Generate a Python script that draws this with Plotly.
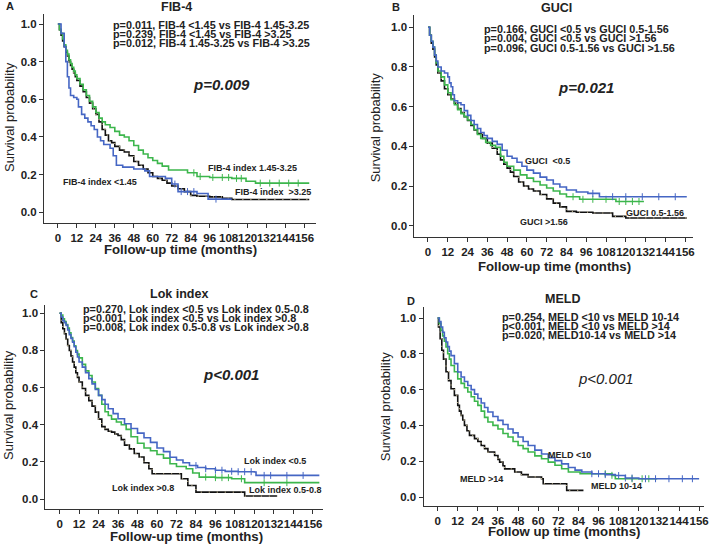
import numpy as np
import plotly.graph_objects as go

# ---- survival data (step points: time in months, survival after the step) ----
# Panel A: FIB-4
A_low_t = [0, 2, 4, 5, 6, 7, 8, 10, 12, 13, 15, 17, 19, 21, 23, 25, 27, 29, 33, 35, 37, 41, 48, 55, 58, 68, 72, 76, 88, 95, 110]
A_low_s = [1.0, 0.95, 0.88, 0.80, 0.72, 0.66, 0.62, 0.61, 0.60, 0.56, 0.52, 0.50, 0.48, 0.46, 0.44, 0.40, 0.38, 0.36, 0.34, 0.30, 0.25, 0.24, 0.23, 0.22, 0.19, 0.18, 0.15, 0.11, 0.10, 0.07, 0.07]
A_mid_t = [0, 1, 2, 3, 4, 5, 6, 7, 8, 9, 10, 11, 12, 14, 16, 18, 20, 22, 24, 26, 28, 30, 33, 36, 39, 42, 45, 48, 51, 54, 57, 60, 63, 66, 70, 78, 82, 88, 96, 110, 119, 125, 159]
A_mid_s = [1.0, 0.97, 0.95, 0.92, 0.89, 0.86, 0.84, 0.81, 0.79, 0.77, 0.75, 0.73, 0.71, 0.68, 0.65, 0.62, 0.59, 0.56, 0.53, 0.50, 0.48, 0.465, 0.45, 0.43, 0.41, 0.40, 0.38, 0.355, 0.33, 0.31, 0.29, 0.275, 0.26, 0.245, 0.225, 0.225, 0.21, 0.19, 0.185, 0.18, 0.165, 0.155, 0.155]
A_high_t = [0, 1, 2, 3, 4, 5, 6, 7, 8, 9, 10, 11, 12, 14, 16, 18, 20, 22, 24, 26, 28, 30, 32, 34, 36, 39, 42, 45, 48, 51, 54, 57, 60, 63, 66, 69, 72, 76, 80, 84, 88, 96, 104, 110, 159]
A_high_s = [1.0, 0.97, 0.94, 0.91, 0.88, 0.85, 0.83, 0.80, 0.78, 0.76, 0.74, 0.72, 0.70, 0.67, 0.64, 0.61, 0.58, 0.55, 0.52, 0.48, 0.44, 0.41, 0.38, 0.37, 0.35, 0.33, 0.32, 0.30, 0.27, 0.25, 0.23, 0.21, 0.19, 0.18, 0.17, 0.155, 0.14, 0.125, 0.11, 0.09, 0.085, 0.082, 0.075, 0.068, 0.068]
A_low_cens = [74, 78, 82, 86, 100]
A_mid_cens = [86, 90, 98, 104, 108, 113, 116, 128, 134, 140, 146, 152]

# Panel B: GUCI
B_low_t = [0, 1, 2, 3, 4, 5, 6, 8, 10, 12, 13, 14, 15, 16, 18, 20, 22, 24, 26, 28, 30, 32, 34, 36, 39, 42, 45, 48, 51, 54, 57, 60, 64, 68, 72, 76, 80, 84, 90, 97, 104, 157]
B_low_s = [1.0, 0.96, 0.93, 0.90, 0.86, 0.83, 0.80, 0.78, 0.77, 0.75, 0.72, 0.70, 0.66, 0.63, 0.62, 0.61, 0.58, 0.556, 0.53, 0.51, 0.49, 0.47, 0.455, 0.44, 0.425, 0.41, 0.38, 0.35, 0.34, 0.32, 0.30, 0.28, 0.265, 0.245, 0.23, 0.21, 0.195, 0.18, 0.17, 0.163, 0.146, 0.146]
B_mid_t = [0, 1, 2, 3, 4, 5, 6, 8, 10, 12, 14, 16, 18, 20, 22, 24, 26, 28, 30, 32, 35, 38, 41, 44, 46, 48, 52, 56, 60, 64, 68, 72, 76, 80, 84, 92, 112, 114, 131]
B_mid_s = [1.0, 0.96, 0.93, 0.90, 0.86, 0.82, 0.78, 0.75, 0.71, 0.67, 0.635, 0.61, 0.585, 0.565, 0.55, 0.533, 0.51, 0.485, 0.46, 0.44, 0.42, 0.405, 0.395, 0.35, 0.32, 0.30, 0.28, 0.256, 0.24, 0.223, 0.205, 0.19, 0.175, 0.16, 0.146, 0.133, 0.133, 0.122, 0.122]
B_high_t = [0, 1, 2, 3, 4, 5, 6, 8, 10, 12, 14, 16, 18, 20, 22, 24, 26, 28, 30, 33, 36, 39, 42, 44, 46, 48, 50, 52, 55, 58, 61, 64, 68, 72, 76, 80, 84, 90, 100, 112, 120, 157]
B_high_s = [1.0, 0.96, 0.92, 0.89, 0.85, 0.81, 0.77, 0.73, 0.69, 0.66, 0.64, 0.617, 0.59, 0.57, 0.55, 0.53, 0.505, 0.483, 0.465, 0.44, 0.416, 0.39, 0.36, 0.332, 0.31, 0.29, 0.27, 0.248, 0.22, 0.20, 0.185, 0.175, 0.157, 0.135, 0.114, 0.095, 0.072, 0.068, 0.064, 0.047, 0.039, 0.039]
B_low_cens = [100, 112, 120, 130, 140, 150]
B_mid_cens = [88, 94, 100, 108, 116, 120, 124, 128]

# Panel C: Lok index
C_low_t = [0, 1, 2, 3, 4, 5, 6, 7, 8, 9, 10, 11, 12, 14, 16, 18, 20, 22, 24, 26, 28, 30, 33, 36, 40, 44, 48, 52, 56, 60, 64, 68, 72, 76, 80, 85, 90, 96, 102, 110, 120, 121, 160]
C_low_s = [1.0, 0.98, 0.96, 0.95, 0.935, 0.91, 0.885, 0.865, 0.845, 0.82, 0.79, 0.765, 0.738, 0.71, 0.68, 0.648, 0.62, 0.59, 0.558, 0.535, 0.51, 0.486, 0.46, 0.432, 0.405, 0.38, 0.355, 0.33, 0.305, 0.275, 0.255, 0.225, 0.21, 0.195, 0.18, 0.17, 0.163, 0.155, 0.149, 0.147, 0.145, 0.127, 0.127]
C_mid_t = [0, 1, 2, 3, 4, 5, 6, 7, 8, 9, 10, 11, 12, 14, 16, 18, 20, 22, 24, 26, 28, 30, 32, 35, 38, 41, 44, 48, 52, 56, 60, 64, 68, 72, 78, 82, 86, 96, 106, 114, 160]
C_mid_s = [1.0, 0.99, 0.97, 0.955, 0.94, 0.92, 0.895, 0.87, 0.85, 0.825, 0.80, 0.78, 0.76, 0.725, 0.69, 0.665, 0.63, 0.595, 0.558, 0.51, 0.47, 0.45, 0.43, 0.415, 0.40, 0.375, 0.335, 0.30, 0.275, 0.26, 0.24, 0.22, 0.19, 0.175, 0.163, 0.14, 0.118, 0.115, 0.109, 0.088, 0.088]
C_high_t = [0, 1, 2, 3, 4, 5, 6, 7, 8, 9, 10, 11, 12, 14, 16, 18, 20, 22, 24, 26, 28, 30, 32, 34, 36, 38, 40, 43, 46, 49, 52, 55, 57, 73, 75, 79, 84, 113, 114, 134]
C_high_s = [1.0, 0.95, 0.917, 0.89, 0.86, 0.827, 0.80, 0.77, 0.738, 0.71, 0.68, 0.655, 0.63, 0.595, 0.558, 0.53, 0.50, 0.468, 0.43, 0.39, 0.375, 0.365, 0.36, 0.35, 0.342, 0.32, 0.29, 0.27, 0.245, 0.226, 0.195, 0.163, 0.136, 0.136, 0.109, 0.073, 0.037, 0.037, 0.016, 0.016]
C_low_cens = [84, 90, 96, 100, 106, 110, 114, 118, 126, 130, 140, 150]
C_mid_cens = [90, 96, 100, 104, 112, 126, 140]

# Panel D: MELD
D_low_t = [0, 1, 2, 3, 4, 5, 6, 7, 8, 10, 12, 14, 16, 18, 20, 22, 24, 26, 28, 30, 33, 36, 39, 42, 45, 48, 51, 54, 58, 62, 66, 70, 74, 78, 82, 86, 92, 100, 106, 112, 120, 156]
D_low_s = [1.0, 0.98, 0.95, 0.92, 0.89, 0.866, 0.84, 0.815, 0.79, 0.745, 0.698, 0.67, 0.645, 0.623, 0.60, 0.575, 0.55, 0.525, 0.50, 0.475, 0.45, 0.428, 0.405, 0.38, 0.358, 0.335, 0.31, 0.288, 0.262, 0.24, 0.22, 0.203, 0.185, 0.165, 0.15, 0.14, 0.13, 0.125, 0.12, 0.106, 0.102, 0.102]
D_mid_t = [0, 1, 2, 3, 4, 5, 6, 7, 8, 10, 12, 14, 16, 18, 20, 22, 24, 26, 28, 30, 33, 36, 39, 42, 45, 48, 51, 54, 58, 62, 66, 70, 74, 78, 85, 104, 106, 131]
D_mid_s = [1.0, 0.97, 0.93, 0.90, 0.87, 0.838, 0.80, 0.77, 0.735, 0.70, 0.66, 0.635, 0.61, 0.587, 0.56, 0.535, 0.512, 0.48, 0.445, 0.419, 0.40, 0.38, 0.355, 0.335, 0.31, 0.288, 0.27, 0.251, 0.23, 0.214, 0.195, 0.177, 0.158, 0.14, 0.13, 0.121, 0.102, 0.102]
D_high_t = [0, 0.5, 1.5, 2.5, 3.5, 5, 6.5, 8, 10, 12, 13, 14, 15, 16, 17.5, 19, 22, 24, 26, 28, 30, 34, 36, 37, 39, 40, 46, 50, 54, 62, 63, 76, 77, 87]
D_high_s = [1.0, 0.95, 0.884, 0.82, 0.77, 0.70, 0.65, 0.605, 0.568, 0.512, 0.48, 0.456, 0.43, 0.40, 0.37, 0.344, 0.326, 0.31, 0.288, 0.27, 0.251, 0.232, 0.21, 0.195, 0.175, 0.157, 0.14, 0.125, 0.112, 0.102, 0.074, 0.074, 0.037, 0.037]
D_low_cens = [92, 96, 100, 108, 112, 116, 124, 130, 138, 146, 152]
D_mid_cens = [100, 104, 116, 122, 126]

x_ticks = list(range(0, 157, 12))
y_ticks = [0.0, 0.2, 0.4, 0.6, 0.8, 1.0]

BLUE = "#4566c4"
GREEN = "#3cb64c"
BLACK = "#111111"
TAN = "#cdbf98"
FONT = "Liberation Sans, Arial, sans-serif"

W, H = 716, 544

# panel geometry in pixels: axis line extents, tick zero position and scale
GEOM = [
    dict(xL=44.3, xR=318, x0=58.3, sx=1.592, yB=222.7, yT=14, y0=212.3, sy=188.3),
    dict(xL=417.3, xR=698, x0=431, sx=1.660, yB=237.3, yT=15, y0=225.7, sy=198.4),
    dict(xL=45.7, xR=325, x0=60, sx=1.635, yB=509, yT=305, y0=499, sy=185.7),
    dict(xL=426.5, xR=709, x0=440.7, sx=1.688, yB=506, yT=307, y0=497, sy=179),
]

panels = [
    [(A_low_t, A_low_s, BLUE, A_low_cens), (A_mid_t, A_mid_s, GREEN, A_mid_cens), (A_high_t, A_high_s, BLACK, None)],
    [(B_low_t, B_low_s, BLUE, B_low_cens), (B_mid_t, B_mid_s, GREEN, B_mid_cens), (B_high_t, B_high_s, BLACK, None)],
    [(C_low_t, C_low_s, BLUE, C_low_cens), (C_mid_t, C_mid_s, GREEN, C_mid_cens), (C_high_t, C_high_s, BLACK, None)],
    [(D_low_t, D_low_s, BLUE, D_low_cens), (D_mid_t, D_mid_s, GREEN, D_mid_cens), (D_high_t, D_high_s, BLACK, None)],
]


def step_at(t, s, times):
    idx = np.searchsorted(np.array(t), np.array(times), side="right") - 1
    return np.array(s)[idx]


fig = go.Figure()
layout = dict(width=W, height=H, margin=dict(l=0, r=0, t=0, b=0),
              paper_bgcolor="white", plot_bgcolor="white", showlegend=False,
              font=dict(family=FONT, color="#222"))

for i, (g, curves) in enumerate(zip(GEOM, panels)):
    n = "" if i == 0 else str(i + 1)
    xa, ya = "x" + n, "y" + n
    layout["xaxis" + n] = dict(
        domain=[g["xL"] / W, g["xR"] / W],
        range=[(g["xL"] - g["x0"]) / g["sx"], (g["xR"] - g["x0"]) / g["sx"]],
        anchor=ya, tickvals=x_ticks, ticks="outside", ticklen=4, tickcolor="#333", tickangle=0,
        showline=True, linecolor="#333", linewidth=1, showgrid=False, zeroline=False,
        tickfont=dict(size=11.5, family=FONT, weight="bold", color="#222"), fixedrange=True)
    layout["yaxis" + n] = dict(
        domain=[1 - g["yB"] / H, 1 - g["yT"] / H],
        range=[(g["y0"] - g["yB"]) / g["sy"], (g["y0"] - g["yT"]) / g["sy"]],
        anchor=xa, tickvals=y_ticks, tickformat=".1f", ticks="outside", ticklen=4, tickcolor="#333",
        showline=True, linecolor="#333", linewidth=1, showgrid=False, zeroline=False,
        tickfont=dict(size=11.5, family=FONT, weight="bold", color="#222"), fixedrange=True)

    # draw black first so coloured curves sit on top like the original
    for t, s, col, cens in [curves[2], curves[1], curves[0]]:
        fig.add_trace(go.Scatter(x=t, y=s, mode="lines", line=dict(color=col, width=1.6, shape="hv"),
                                 xaxis=xa, yaxis=ya, hoverinfo="skip"))
        if col == BLACK:
            fig.add_trace(go.Scatter(x=t, y=s, mode="lines",
                                     line=dict(color=TAN, width=1.2, shape="hv", dash="1px,7px"),
                                     xaxis=xa, yaxis=ya, hoverinfo="skip"))
        if cens:
            fig.add_trace(go.Scatter(x=cens, y=step_at(t, s, cens), mode="markers",
                                     marker=dict(symbol="line-ns", size=5, line=dict(color=col, width=1)),
                                     xaxis=xa, yaxis=ya, hoverinfo="skip"))

fig.update_layout(**layout)

# ---- text ----
def note(x, y, text, size, anchor="left", bold=True, italic=False, angle=0, color="#222"):
    fig.add_annotation(x=x / W, y=1 - y / H, xref="paper", yref="paper", text=text, showarrow=False,
                       xanchor=anchor, yanchor="middle", textangle=angle, borderpad=0,
                       font=dict(family=FONT, size=size, color=color,
                                 weight="bold" if bold else "normal",
                                 style="italic" if italic else "normal"))


letters = ["A", "B", "C", "D"]
titles = ["FIB-4", "GUCI", "Lok index", "MELD"]
pvals = ["p=0.009", "p=0.021", "p<0.001", "p<0.001"]
pair_tests = [
    ["p=0.011, FIB-4 <1.45 vs FIB-4 1.45-3.25", "p=0.239, FIB-4 <1.45 vs FIB-4 >3.25", "p=0.012, FIB-4 1.45-3.25 vs FIB-4 >3.25"],
    ["p=0.166, GUCI <0.5 vs GUCI 0.5-1.56", "p=0.004, GUCI <0.5 vs GUCI >1.56", "p=0.096, GUCI 0.5-1.56 vs GUCI >1.56"],
    ["p=0.270, Lok index <0.5 vs Lok index 0.5-0.8", "p<0.001, Lok index <0.5 vs Lok index >0.8", "p=0.008, Lok index 0.5-0.8 vs Lok index >0.8"],
    ["p=0.254, MELD <10 vs MELD 10-14", "p<0.001, MELD <10 vs MELD >14", "p=0.020, MELD10-14 vs MELD >14"],
]
curve_labels = [
    ["FIB-4 index 1.45-3.25", "FIB-4 index <1.45", "FIB-4 index  >3.25"],
    ["GUCI  <0.5", "GUCI 0.5-1.56", "GUCI >1.56"],
    ["Lok index <0.5", "Lok index >0.8", "Lok index 0.5-0.8"],
    ["MELD <10", "MELD >14", "MELD 10-14"],
]
x_titles = ["Follow-up time (months)", "Follow-up time (months)", "Follow-up time (months)", "Follow up time (months)"]
y_title = "Survival probability"

# text placement (pixels)
POS = [
    dict(letter=(5, 6), title=(178, 7), tests=(113, [25, 34, 43]), p=(223, 84), pbold=True,
         labels=[(208, 168), (62, 182), (236, 192)], xt=(182, 250), yt=(9, 117)),
    dict(letter=(394, 7), title=(560, 8), tests=(486, [29, 38, 48]), p=(590, 87), pbold=True,
         labels=[(528, 161), (629, 213), (523, 222)], xt=(558, 266), yt=(379, 127)),
    dict(letter=(29, 294), title=(180, 294), tests=(83, [309, 318, 327]), p=(233, 374), pbold=True,
         labels=[(245, 461), (112, 488), (250, 490)], xt=(188, 536), yt=(8, 405)),
    dict(letter=(409, 301), title=(566, 299), tests=(505, [317, 326, 335]), p=(610, 378), pbold=False,
         labels=[(551, 455), (462, 479), (594, 486)], xt=(568, 531), yt=(388, 406)),
]

for i, p in enumerate(POS):
    note(*p["letter"], letters[i], 11)
    note(*p["title"], titles[i], 12.5, anchor="center")
    tx, tys = p["tests"]
    for line, ty in zip(pair_tests[i], tys):
        note(tx, ty, line, 10.8)
    note(*p["p"], pvals[i], 15, anchor="center", bold=p["pbold"], italic=True)
    for lab, (lx, ly) in zip(curve_labels[i], p["labels"]):
        note(lx, ly, lab, 9)
    note(*p["xt"], x_titles[i], 13.2, anchor="center")
    note(*p["yt"], y_title, 13, anchor="center", bold=False, angle=-90)

# page default margin would shift the whole figure by 8px
fig.write_html("out.html", config={"displayModeBar": False},
               post_script="document.body.style.margin='0';document.body.style.padding='0';")
